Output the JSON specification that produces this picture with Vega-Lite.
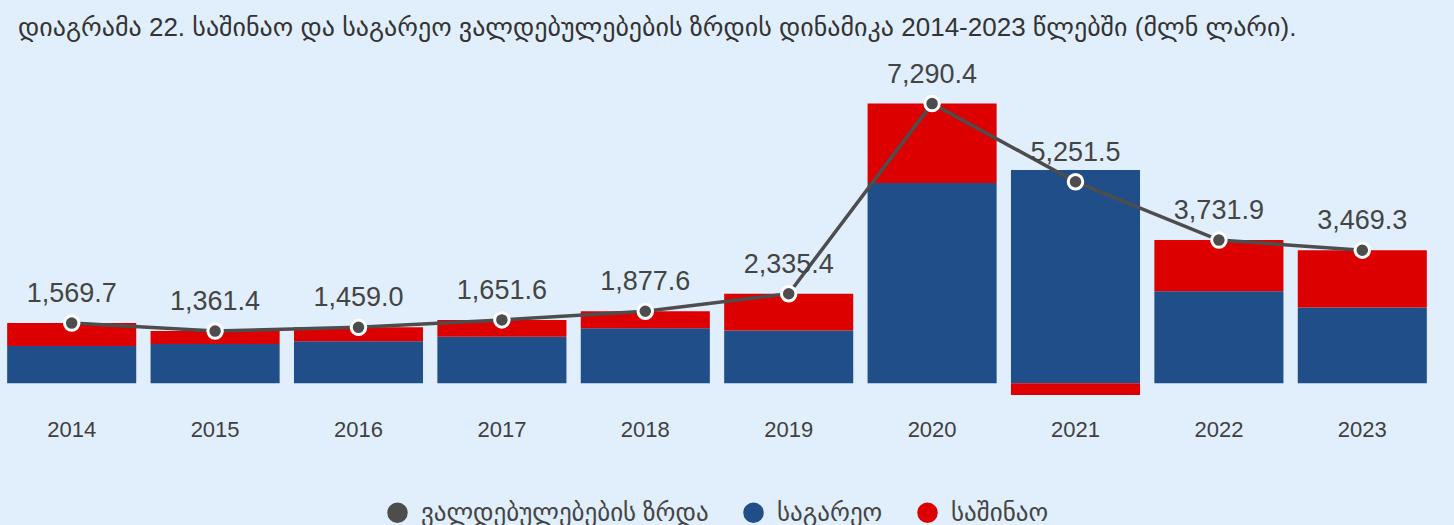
{
  "$schema": "https://vega.github.io/schema/vega-lite/v6.json",
  "width": 1434,
  "height": 353,
  "autosize": {"type": "none"},
  "padding": {"left": 0, "top": 61, "right": 20, "bottom": 111},
  "background": "#E1EFFC",
  "config": {
    "view": {"stroke": null},
    "font": "Liberation Sans, DejaVu Sans, sans-serif"
  },
  "title": {
    "text": "დიაგრამა 22. საშინაო და საგარეო ვალდებულებების ზრდის დინამიკა 2014-2023 წლებში (მლნ ლარი).",
    "anchor": "start",
    "frame": "group",
    "offset": 20,
    "dx": 18,
    "fontSize": 26,
    "fontWeight": "normal",
    "color": "#333333",
    "limit": 0,
    "font": "Liberation Sans, DejaVu Sans, sans-serif"
  },
  "datasets": {
    "bars": [
      {"year": "2014", "type": "საგარეო", "value": 970, "o": 1},
      {"year": "2014", "type": "საშინაო", "value": 599.7, "o": 2},
      {"year": "2015", "type": "საგარეო", "value": 1027, "o": 1},
      {"year": "2015", "type": "საშინაო", "value": 334.4, "o": 2},
      {"year": "2016", "type": "საგარეო", "value": 1096, "o": 1},
      {"year": "2016", "type": "საშინაო", "value": 363, "o": 2},
      {"year": "2017", "type": "საგარეო", "value": 1212, "o": 1},
      {"year": "2017", "type": "საშინაო", "value": 439.6, "o": 2},
      {"year": "2018", "type": "საგარეო", "value": 1433, "o": 1},
      {"year": "2018", "type": "საშინაო", "value": 444.6, "o": 2},
      {"year": "2019", "type": "საგარეო", "value": 1378, "o": 1},
      {"year": "2019", "type": "საშინაო", "value": 957.4, "o": 2},
      {"year": "2020", "type": "საგარეო", "value": 5218, "o": 1},
      {"year": "2020", "type": "საშინაო", "value": 2072.4, "o": 2},
      {"year": "2021", "type": "საგარეო", "value": 5557, "o": 1},
      {"year": "2021", "type": "საშინაო", "value": -305.5, "o": 2},
      {"year": "2022", "type": "საგარეო", "value": 2402, "o": 1},
      {"year": "2022", "type": "საშინაო", "value": 1329.9, "o": 2},
      {"year": "2023", "type": "საგარეო", "value": 1975, "o": 1},
      {"year": "2023", "type": "საშინაო", "value": 1494.3, "o": 2}
    ],
    "totals": [
      {"year": "2014", "total": 1569.7},
      {"year": "2015", "total": 1361.4},
      {"year": "2016", "total": 1459.0},
      {"year": "2017", "total": 1651.6},
      {"year": "2018", "total": 1877.6},
      {"year": "2019", "total": 2335.4},
      {"year": "2020", "total": 7290.4},
      {"year": "2021", "total": 5251.5},
      {"year": "2022", "total": 3731.9},
      {"year": "2023", "total": 3469.3}
    ]
  },
  "layer": [
    {
      "data": {"name": "bars"},
      "mark": {"type": "bar"},
      "encoding": {
        "x": {
          "field": "year",
          "type": "nominal",
          "scale": {"paddingInner": 0.1, "paddingOuter": 0.05},
          "axis": {
            "title": null,
            "domain": false,
            "ticks": false,
            "labelAngle": 0,
            "labelFontSize": 22,
            "labelColor": "#404040",
            "labelPadding": 5,
            "labelFont": "Liberation Sans, DejaVu Sans, sans-serif"
          }
        },
        "y": {
          "field": "value",
          "type": "quantitative",
          "stack": "zero",
          "scale": {"domain": [-800, 8400], "nice": false, "zero": true},
          "axis": null
        },
        "color": {
          "field": "type",
          "type": "nominal",
          "scale": {
            "domain": ["ვალდებულებების ზრდა", "საგარეო", "საშინაო"],
            "range": ["#4D4D4D", "#1F4E89", "#DC0000"]
          },
          "legend": {
            "orient": "none",
            "legendX": 385,
            "legendY": 439,
            "direction": "horizontal",
            "title": null,
            "symbolType": "circle",
            "symbolSize": 420,
            "symbolStrokeWidth": 0,
            "labelFontSize": 25,
            "labelColor": "#444444",
            "labelFont": "Liberation Sans, DejaVu Sans, sans-serif",
            "labelOffset": 11,
            "labelLimit": 0,
            "columnPadding": 32,
            "padding": 0
          }
        },
        "order": {"field": "o", "type": "quantitative"}
      }
    },
    {
      "mark": {"type": "rule", "color": "#C5CFDB", "strokeWidth": 3},
      "encoding": {"y": {"datum": 0}}
    },
    {
      "data": {"name": "totals"},
      "mark": {"type": "line", "color": "#4D4D4D", "strokeWidth": 3.5},
      "encoding": {
        "x": {"field": "year", "type": "nominal"},
        "y": {"field": "total", "type": "quantitative"}
      }
    },
    {
      "data": {"name": "totals"},
      "mark": {"type": "point", "filled": true, "fill": "#4D4D4D", "stroke": "#FFFFFF", "strokeWidth": 3, "size": 210, "opacity": 1, "shape": "circle"},
      "encoding": {
        "x": {"field": "year", "type": "nominal"},
        "y": {"field": "total", "type": "quantitative"}
      }
    },
    {
      "data": {"name": "totals"},
      "mark": {"type": "text", "fontSize": 27, "color": "#444444", "dy": -21, "baseline": "alphabetic", "font": "Liberation Sans, DejaVu Sans, sans-serif"},
      "encoding": {
        "x": {"field": "year", "type": "nominal"},
        "y": {"field": "total", "type": "quantitative"},
        "text": {"field": "total", "type": "quantitative", "format": ",.1f"}
      }
    }
  ]
}
